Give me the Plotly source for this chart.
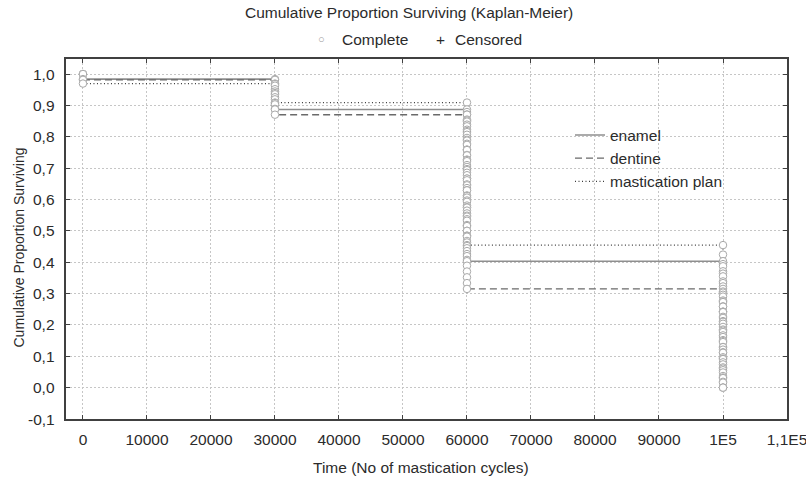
import plotly.graph_objects as go

# ---- data ----
event_times = [0, 30000, 60000, 100000]
groups = ["enamel", "dentine", "mastication plan"]
n_subjects = {"enamel": 62, "dentine": 54, "mastication plan": 33}
deaths = {
    "enamel": [1, 6, 30, 25],
    "dentine": [1, 6, 30, 17],
    "mastication plan": [1, 2, 15, 15],
}
x_tickvals = [0, 10000, 20000, 30000, 40000, 50000, 60000, 70000, 80000, 90000, 100000, 110000]
x_ticktext = ["0", "10000", "20000", "30000", "40000", "50000", "60000", "70000", "80000", "90000", "1E5", "1,1E5"]
y_tickvals = [-0.1, 0.0, 0.1, 0.2, 0.3, 0.4, 0.5, 0.6, 0.7, 0.8, 0.9, 1.0]
y_ticktext = ["-0,1", "0,0", "0,1", "0,2", "0,3", "0,4", "0,5", "0,6", "0,7", "0,8", "0,9", "1,0"]

styles = {
    "enamel": dict(color="#8f8f8f", width=1.6, dash="solid"),
    "dentine": dict(color="#6a6a6a", width=1.4, dash="7px,4px"),
    "mastication plan": dict(color="#3c3c3c", width=1.3, dash="1px,2.5px"),
}

FONT = "Liberation Sans, Arial, sans-serif"
TXT = "#2b2b2b"
FS = 15.5

fig = go.Figure()

circle_pts = []
for g in groups:
    n = n_subjects[g]
    at_risk = n
    s = 1.0
    ys = []
    for t, d in zip(event_times, deaths[g]):
        for k in range(d + 1):
            circle_pts.append((t, s * (at_risk - k) / at_risk))
        s = s * (at_risk - d) / at_risk
        at_risk -= d
        ys.append(s)
    fig.add_trace(go.Scatter(
        x=event_times, y=ys, mode="lines", line_shape="hv",
        line=styles[g], name=g, showlegend=True, hoverinfo="skip"))

circle_pts.sort(key=lambda p: (p[0], -p[1]))
fig.add_trace(go.Scatter(
    x=[p[0] for p in circle_pts], y=[p[1] for p in circle_pts],
    mode="markers", showlegend=False, name="Complete",
    marker=dict(symbol="circle", size=7.5, color="white",
                line=dict(color="#a8a8a8", width=1))))

axis_common = dict(
    showline=True, linecolor="#404040", linewidth=1.8, mirror="ticks",
    ticks="inside", ticklen=4, tickcolor="#404040", tickwidth=1,
    showgrid=True, gridcolor="#c6c6c6", griddash="2px,2px", gridwidth=1,
    zeroline=False, automargin=False, ticklabeloverflow="allow",
    tickfont=dict(family=FONT, size=FS, color=TXT),
)

fig.update_xaxes(range=[-2650, 110000], tickvals=x_tickvals, ticktext=x_ticktext,
                 ticklabelstandoff=5, **axis_common)
fig.update_yaxes(range=[-0.1, 1.048], tickvals=y_tickvals, showticklabels=False,
                 **axis_common)

annotations = [
    dict(text="Cumulative Proportion Surviving (Kaplan-Meier)", xref="paper", yref="paper",
         x=(409 - 66) / 721, y=1, yshift=47, xanchor="center", yanchor="middle", showarrow=False,
         font=dict(family=FONT, size=FS, color=TXT)),
    dict(text="○", xref="paper", yref="paper", x=(321 - 66) / 721, y=1, yshift=20,
         xanchor="center", yanchor="middle", showarrow=False,
         font=dict(family=FONT, size=11, color="#9a9a9a")),
    dict(text="Complete", xref="paper", yref="paper", x=(340 - 66) / 721, y=1, yshift=20,
         xanchor="left", yanchor="middle", showarrow=False,
         font=dict(family=FONT, size=FS, color=TXT)),
    dict(text="+", xref="paper", yref="paper", x=(440 - 66) / 721, y=1, yshift=20,
         xanchor="center", yanchor="middle", showarrow=False,
         font=dict(family=FONT, size=FS, color=TXT)),
    dict(text="Censored", xref="paper", yref="paper", x=(453 - 66) / 721, y=1, yshift=20,
         xanchor="left", yanchor="middle", showarrow=False,
         font=dict(family=FONT, size=FS, color=TXT)),
    dict(text="Time (No of mastication cycles)", xref="paper", yref="paper",
         x=(421 - 66) / 721, y=0, yshift=-48, xanchor="center", yanchor="middle",
         showarrow=False, font=dict(family=FONT, size=FS, color=TXT)),
    dict(text="Cumulative Proportion Surviving", xref="paper", yref="paper",
         x=0, xshift=-48, y=1 - (247.5 - 59) / 360, xanchor="center", yanchor="middle",
         textangle=-90, showarrow=False, font=dict(family=FONT, size=14, color=TXT)),
]
# y tick labels placed on the y scale, right-aligned a little left of the frame
for v, t in zip(y_tickvals, y_ticktext):
    annotations.append(dict(text=t, xref="paper", yref="y", x=0, xshift=-9, y=v,
                            xanchor="right", yanchor="middle", showarrow=False,
                            font=dict(family=FONT, size=FS, color=TXT)))

fig.update_layout(
    width=806, height=479,
    margin=dict(l=66, r=19, t=59, b=60),
    paper_bgcolor="white", plot_bgcolor="white",
    font=dict(family=FONT, size=FS, color=TXT),
    legend=dict(x=(570 - 66) / 721, y=0.835, xanchor="left", yanchor="top",
                bgcolor="rgba(0,0,0,0)", font=dict(family=FONT, size=FS, color=TXT),
                itemwidth=30, tracegroupgap=0),
    annotations=annotations,
)

fig.write_html("out.html", config={"displayModeBar": False},
               post_script="document.body.style.margin='0px';document.body.style.overflow='hidden';")
